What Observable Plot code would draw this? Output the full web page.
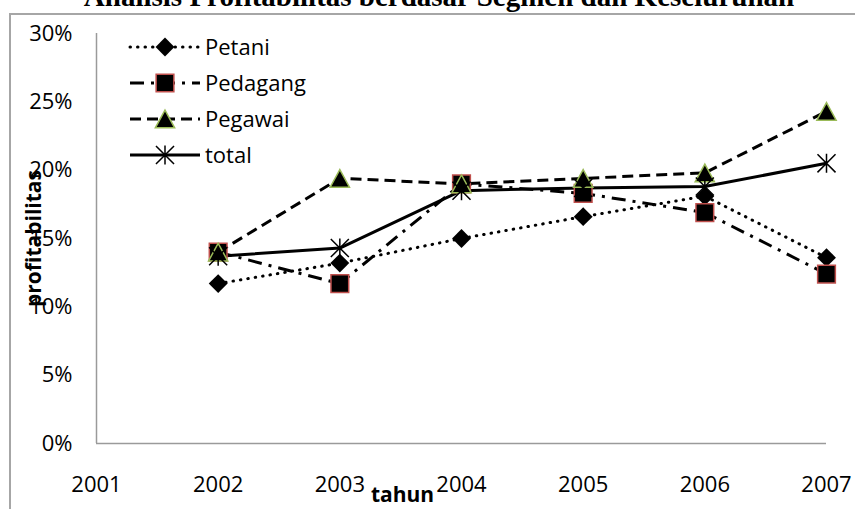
<!DOCTYPE html>
<html>
<head>
<meta charset="utf-8">
<script src="https://cdn.jsdelivr.net/npm/d3@7"></script>
<script src="https://cdn.jsdelivr.net/npm/@observablehq/plot@0.6"></script>
<style>
  html, body { margin: 0; padding: 0; background: #fff; }
  #wrap { position: relative; width: 855px; height: 509px; overflow: hidden; }
  #chart { position: absolute; left: 0; top: 0; }
  #frame { position: absolute; left: 9px; top: 13px; width: 1000px; height: 1000px;
           border: 2px solid #a6a6a6; box-sizing: border-box; }
  #title { position: absolute; left: 0; width: 878px; top: -18px; text-align: center;
           font: bold 29px "Liberation Serif", serif; line-height: 29px; white-space: nowrap; color: #000; }
</style>
</head>
<body>
<div id="wrap">
  <div id="chart"></div>
  <div id="frame"></div>
  <div id="title">Analisis Profitabilitas berdasar Segmen dan Keseluruhan</div>
</div>
<script>
// ---- data ----
const years = [2002, 2003, 2004, 2005, 2006, 2007];
const xTicks = [2001, 2002, 2003, 2004, 2005, 2006, 2007];
const yTicks = [0, 0.05, 0.10, 0.15, 0.20, 0.25, 0.30];
const seriesNames = ["Petani", "Pedagang", "Pegawai", "total"];
const petani   = [0.117, 0.132, 0.150, 0.166, 0.181, 0.136];
const pedagang = [0.140, 0.117, 0.190, 0.183, 0.169, 0.124];
const pegawai  = [0.140, 0.194, 0.190, 0.194, 0.198, 0.243];
const total    = [0.137, 0.143, 0.185, 0.187, 0.188, 0.205];
const xLabel = "tahun";
const yLabel = "profitabilitas";

const rows = (name, vals) => years.map((year, i) => ({year, value: vals[i], series: name}));
const data = {
  Petani: rows("Petani", petani),
  Pedagang: rows("Pedagang", pedagang),
  Pegawai: rows("Pegawai", pegawai),
  total: rows("total", total)
};

// custom symbols (centered on bounding box)
const triangleC = {
  draw(ctx, size) {
    const s = Math.sqrt(size / Math.PI);
    const w = 2.57 * s, h = 2.36 * s;
    ctx.moveTo(0, -h / 2);
    ctx.lineTo(w / 2, h / 2);
    ctx.lineTo(-w / 2, h / 2);
    ctx.closePath();
  }
};
const asteriskX = {
  draw(ctx, size) {
    const s = Math.sqrt(size / Math.PI);
    const d = s * 0.95;
    ctx.moveTo(0, -s); ctx.lineTo(0, s);
    ctx.moveTo(-d, -d); ctx.lineTo(d, d);
    ctx.moveTo(-d, d); ctx.lineTo(d, -d);
  }
};

const styles = {
  Petani:   {dash: "0.5,7", cap: "round", symbol: "diamond2", r: 8.5, fill: "black", stroke: "none", sw: 0},
  Pedagang: {dash: "14,7,3,7", cap: "butt", symbol: "square", r: 10, fill: "black", stroke: "#c0504d", sw: 1.5},
  Pegawai:  {dash: "11,6", cap: "butt", symbol: triangleC, r: 7.5, fill: "black", stroke: "#9bbb59", sw: 1.5},
  total:    {dash: null, cap: "butt", symbol: asteriskX, r: 9.5, fill: "none", stroke: "black", sw: 1.5}
};

const lineMarks = seriesNames.map(name => Plot.lineY(data[name], {
  x: "year", y: "value", stroke: "black", strokeWidth: 3,
  strokeDasharray: styles[name].dash, strokeLinecap: styles[name].cap
}));
const dotMarks = seriesNames.map(name => Plot.dot(data[name], {
  x: "year", y: "value", symbol: styles[name].symbol, r: styles[name].r,
  fill: styles[name].fill, stroke: styles[name].stroke, strokeWidth: styles[name].sw
}));

const axisColor = "#9a9a9a";

const plot = Plot.plot({
  width: 855,
  height: 509,
  marginLeft: 96,
  marginRight: 29,
  marginTop: 33,
  marginBottom: 66,
  style: {fontFamily: "'Open Sans', sans-serif", fontSize: "22px", background: "transparent", overflow: "visible", color: "black"},
  x: {domain: [2001, 2007]},
  y: {domain: [0, 0.30]},
  marks: [
    Plot.axisY(yTicks, {tickFormat: d3.format(".0%"), tickSize: 0, tickPadding: 24, label: null, fontSize: 22}),
    Plot.axisX(xTicks, {tickFormat: d3.format("d"), tickSize: 0, tickPadding: 33, label: null, fontSize: 22}),
    Plot.ruleX([2001], {y1: 0, y2: 0.30, stroke: axisColor, strokeWidth: 1.5}),
    Plot.ruleY([0], {x1: 2001, x2: 2007, stroke: axisColor, strokeWidth: 1.5}),
    ...lineMarks,
    ...dotMarks,
    Plot.text([yLabel], {text: d => d, frameAnchor: "left", dx: -62, rotate: -90, textAnchor: "middle", lineAnchor: "middle", fontWeight: "bold", fontSize: 21}),
    Plot.text([xLabel], {text: d => d, frameAnchor: "bottom", dx: -59, dy: 52, textAnchor: "middle", lineAnchor: "middle", fontWeight: "bold", fontSize: 21})
  ]
});

// legend
const svg = d3.select(plot);
const lg = svg.append("g").attr("class", "legend").attr("text-anchor", "start");
seriesNames.forEach((name, i) => {
  const st = styles[name];
  const cy = 47 + i * 36;
  lg.append("line")
    .attr("x1", 130).attr("x2", 200).attr("y1", cy).attr("y2", cy)
    .attr("stroke", "black").attr("stroke-width", 3)
    .attr("stroke-dasharray", st.dash).attr("stroke-linecap", st.cap);
  const sym = typeof st.symbol === "string"
    ? {diamond2: d3.symbolDiamond2, square: d3.symbolSquare}[st.symbol]
    : st.symbol;
  lg.append("path")
    .attr("transform", `translate(165,${cy})`)
    .attr("d", d3.symbol(sym, Math.PI * st.r * st.r)())
    .attr("fill", st.fill).attr("stroke", st.stroke).attr("stroke-width", st.sw);
  lg.append("text")
    .attr("x", 205).attr("y", cy).attr("dy", "0.35em")
    .attr("text-anchor", "start")
    .attr("font-size", 22).attr("fill", "black")
    .text(name);
});

document.getElementById("chart").appendChild(plot);
</script>
</body>
</html>
